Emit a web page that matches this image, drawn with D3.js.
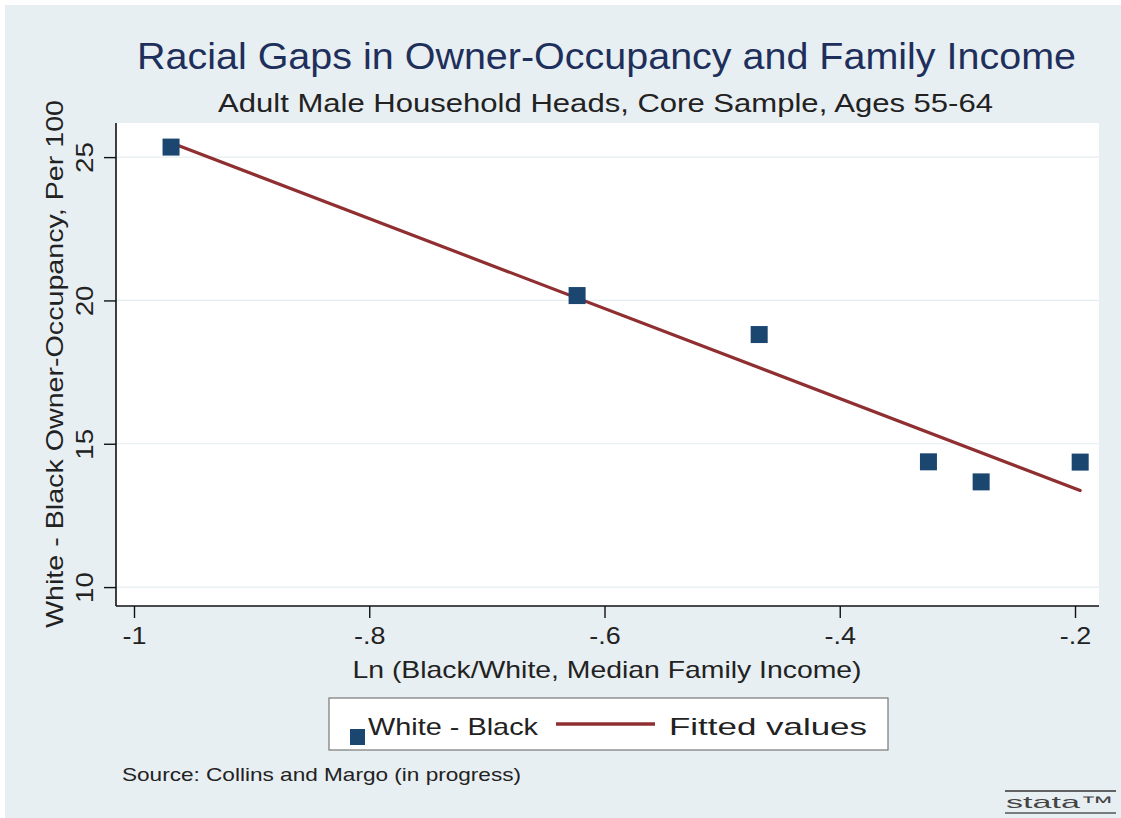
<!DOCTYPE html>
<html>
<head>
<meta charset="utf-8">
<script src="https://cdn.jsdelivr.net/npm/d3@7"></script>
<style>
  html, body { margin: 0; padding: 0; background: #ffffff; }
  svg { display: block; }
  text { font-family: "Liberation Sans", Arial, sans-serif; }
</style>
</head>
<body>
<svg id="chart" width="1121" height="818"></svg>
<script>
// Log income ratio (Black/White median family income) per group
const incomeRatio = [-0.9685, -0.6233, -0.4685, -0.3246, -0.2798, -0.1956];
// White minus Black owner-occupancy, per 100
const ownerGap = [25.35, 20.17, 18.81, 14.37, 13.67, 14.36];
// Linear fit evaluated at the smallest and largest income ratio
const fitX = [-0.9685, -0.1956];
const fitY = [25.5, 13.37];

const xTicks = [-1, -0.8, -0.6, -0.4, -0.2];
const xTickLabels = ["-1", "-.8", "-.6", "-.4", "-.2"];
const yTicks = [10, 15, 20, 25];
const yTickLabels = ["10", "15", "20", "25"];

const titleText = "Racial Gaps in Owner-Occupancy and Family Income";
const subtitleText = "Adult Male Household Heads, Core Sample, Ages 55-64";
const xTitle = "Ln (Black/White, Median Family Income)";
const yTitle = "White - Black Owner-Occupancy, Per 100";
const legendLabels = ["White - Black", "Fitted values"];
const noteText = "Source: Collins and Margo (in progress)";

const svg = d3.select("#chart");
const W = 1121, H = 818;
const plot = { left: 116, right: 1099, top: 123, bottom: 606 };

const bg = "#e8eff2";
const markerColor = "#1a4670";
const lineColor = "#8f2f31";
const gridColor = "#e4eef0";
const textColor = "#222";

// Text that is stretched to a set width (the graph's fonts run wide)
function wideText(sel, str, len) {
  return sel.text(str).attr("textLength", len).attr("lengthAdjust", "spacingAndGlyphs");
}
// Widen already-drawn text by a factor of its natural length
function widen(sel, k) {
  sel.each(function () {
    const n = this.getComputedTextLength();
    d3.select(this).attr("textLength", n * k).attr("lengthAdjust", "spacingAndGlyphs");
  });
}

// Outer graph region
svg.append("rect").attr("x", 5).attr("y", 5).attr("width", W - 5).attr("height", H - 5).attr("fill", bg);
// Plot region
svg.append("rect")
  .attr("x", plot.left).attr("y", plot.top)
  .attr("width", plot.right - plot.left).attr("height", plot.bottom - plot.top)
  .attr("fill", "#ffffff");

const x = d3.scaleLinear().domain([-1.0153, -0.1796]).range([plot.left, plot.right]);
const y = d3.scaleLinear().domain([9.34, 26.19]).range([plot.bottom, plot.top]);

// Horizontal grid lines
svg.append("g").selectAll("line").data(yTicks).join("line")
  .attr("x1", plot.left).attr("x2", plot.right)
  .attr("y1", d => y(d)).attr("y2", d => y(d))
  .attr("stroke", gridColor).attr("stroke-width", 1.2);

// Axes
const yAxis = d3.axisLeft(y).tickValues(yTicks).tickFormat((d, i) => yTickLabels[i]).tickSize(12).tickPadding(10);
const yG = svg.append("g").attr("transform", `translate(${plot.left},0)`).call(yAxis);
yG.select(".domain").attr("d", `M0,${plot.top}V${plot.bottom}`).attr("stroke", "#111").attr("stroke-width", 1.6);
yG.selectAll(".tick line").attr("stroke", "#111").attr("stroke-width", 1.4);
yG.selectAll(".tick text")
  .attr("font-size", 24.5).attr("fill", textColor)
  .attr("x", 0).attr("y", 0).attr("dy", 0)
  .attr("text-anchor", "middle")
  .attr("transform", "translate(-23,0) rotate(-90)");
widen(yG.selectAll(".tick text"), 1.13);

const xAxis = d3.axisBottom(x).tickValues(xTicks).tickFormat((d, i) => xTickLabels[i]).tickSize(12).tickPadding(8);
const xG = svg.append("g").attr("transform", `translate(0,${plot.bottom})`).call(xAxis);
xG.select(".domain").attr("d", `M${plot.left},0H${plot.right}`).attr("stroke", "#111").attr("stroke-width", 1.6);
xG.selectAll(".tick line").attr("stroke", "#111").attr("stroke-width", 1.4);
xG.selectAll(".tick text").attr("font-size", 24.5).attr("fill", textColor).attr("dy", "0.75em");
widen(xG.selectAll(".tick text"), 1.1);

// Fitted line
const fitPts = fitX.map((v, i) => [v, fitY[i]]);
svg.append("path")
  .datum(fitPts)
  .attr("d", d3.line().x(d => x(d[0])).y(d => y(d[1])))
  .attr("fill", "none").attr("stroke", lineColor).attr("stroke-width", 3.2).attr("stroke-linecap", "round");

// Scatter markers
const ms = 17;
svg.append("g").selectAll("rect").data(incomeRatio).join("rect")
  .attr("x", (d) => x(d) - ms / 2)
  .attr("y", (d, i) => y(ownerGap[i]) - ms / 2)
  .attr("width", ms).attr("height", ms)
  .attr("fill", markerColor);

// Titles
wideText(svg.append("text").attr("x", 606.5).attr("y", 69).attr("text-anchor", "middle")
  .attr("font-size", 37).attr("fill", "#1f2f5c"), titleText, 939);
wideText(svg.append("text").attr("x", 605.5).attr("y", 112).attr("text-anchor", "middle")
  .attr("font-size", 25).attr("fill", textColor), subtitleText, 775);

// Axis titles
wideText(svg.append("text").attr("x", 607).attr("y", 678).attr("text-anchor", "middle")
  .attr("font-size", 24).attr("fill", textColor), xTitle, 509);
wideText(svg.append("text")
  .attr("transform", `translate(63,364) rotate(-90)`)
  .attr("text-anchor", "middle").attr("font-size", 24).attr("fill", textColor), yTitle, 528);

// Legend
const lg = svg.append("g");
lg.append("rect").attr("x", 329).attr("y", 698).attr("width", 559).attr("height", 52)
  .attr("fill", "#fff").attr("stroke", "#777").attr("stroke-width", 1.2);
lg.append("rect").attr("x", 350).attr("y", 729).attr("width", 15).attr("height", 16).attr("fill", markerColor);
wideText(lg.append("text").attr("x", 368).attr("y", 735).attr("font-size", 24).attr("fill", textColor), legendLabels[0], 170);
lg.append("line").attr("x1", 556).attr("x2", 655).attr("y1", 724).attr("y2", 724)
  .attr("stroke", lineColor).attr("stroke-width", 3.5);
wideText(lg.append("text").attr("x", 669).attr("y", 735).attr("font-size", 24).attr("fill", textColor), legendLabels[1], 198);

// Note
wideText(svg.append("text").attr("x", 122).attr("y", 781).attr("font-size", 18.5).attr("fill", textColor), noteText, 399);

// Software mark in the corner
const sm = svg.append("g");
sm.append("line").attr("x1", 1005).attr("x2", 1116).attr("y1", 791).attr("y2", 791).attr("stroke", "#333").attr("stroke-width", 1.3);
wideText(sm.append("text").attr("x", 1006).attr("y", 808).attr("font-size", 17)
  .attr("font-family", "DejaVu Sans, sans-serif").attr("fill", "#444"), "stata™", 108);
sm.append("line").attr("x1", 1005).attr("x2", 1116).attr("y1", 813).attr("y2", 813).attr("stroke", "#555").attr("stroke-width", 1.3);
</script>
</body>
</html>
